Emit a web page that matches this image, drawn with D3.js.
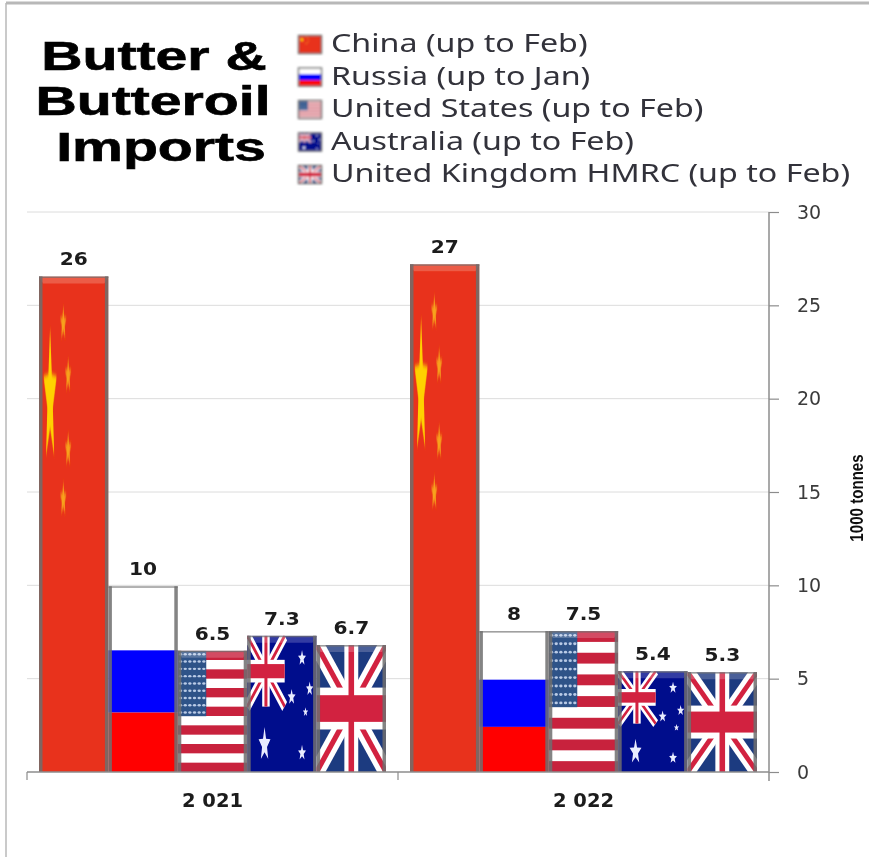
<!DOCTYPE html>
<html>
<head>
<meta charset="utf-8">
<script src="https://cdn.jsdelivr.net/npm/d3@7"></script>
<style>
  body { margin: 0; background: #fff; }
</style>
</head>
<body>
<div class="center"></div>
<script>
var years = ["2 021", "2 022"];
var countries = ["China", "Russia", "United States", "Australia", "United Kingdom"];
var legendLabels = ["China (up to Feb)", "Russia (up to Jan)", "United States (up to Feb)", "Australia (up to Feb)", "United Kingdom HMRC (up to Feb)"];
var values2021 = [26.55, 9.95, 6.5, 7.3, 6.8];
var values2022 = [27.2, 7.55, 7.55, 5.4, 5.35];
var labels2021 = ["26", "10", "6.5", "7.3", "6.7"];
var labels2022 = ["27", "8", "7.5", "5.4", "5.3"];
var titleLines = ["Butter &", "Butteroil", "Imports"];
var yTicks = [0, 5, 10, 15, 20, 25, 30];

var width = 869,
    height = 857;

var svg = d3.select(".center").append("svg")
    .attr("width", width)
    .attr("height", height)
    .style("display", "block");

var defs = svg.append("defs");
defs.append("filter").attr("id", "soft")
    .attr("x", "-5%").attr("y", "-5%").attr("width", "110%").attr("height", "110%")
    .append("feGaussianBlur").attr("stdDeviation", 0.65);
defs.append("filter").attr("id", "glow")
    .attr("x", "-50%").attr("y", "-50%").attr("width", "200%").attr("height", "200%")
    .append("feGaussianBlur").attr("stdDeviation", 0.5);
defs.append("filter").attr("id", "iconblur")
    .attr("x", "-10%").attr("y", "-10%").attr("width", "120%").attr("height", "120%")
    .append("feGaussianBlur").attr("stdDeviation", 0.9);

var root = svg.append("g").attr("filter", "url(#soft)");

// slide border
root.append("line").attr("x1", 6).attr("x2", width).attr("y1", 3).attr("y2", 3)
    .attr("stroke", "#b8b8b8").attr("stroke-width", 3);
root.append("line").attr("x1", 6).attr("x2", 6).attr("y1", 3).attr("y2", height)
    .attr("stroke", "#b8b8b8").attr("stroke-width", 1.5);

var x0 = d3.scaleBand().domain(years).range([27, 769]);
var x1 = d3.scaleBand().domain(countries).range([12, x0.bandwidth() - 12]);
var y = d3.scaleLinear().domain([0, 30]).range([772, 212]);

// gridlines
root.append("g").selectAll("line")
    .data(yTicks.slice(1))
    .enter().append("line")
    .attr("x1", 27).attr("x2", 769)
    .attr("y1", function(d) { return y(d); })
    .attr("y2", function(d) { return y(d); })
    .attr("stroke", "#dcdcdc").attr("stroke-width", 1);

// flag artwork, all drawn in a 100x100 box which gets stretched over the bar
function starPoints(cx, cy, rx, ry) {
  var pts = [];
  for (var i = 0; i < 10; i++) {
    var a = -Math.PI / 2 + i * Math.PI / 5;
    var k = i % 2 == 0 ? 1 : 0.42;
    pts.push((cx + rx * k * Math.cos(a)) + "," + (cy + ry * k * Math.sin(a)));
  }
  return pts.join(" ");
}

function rect(g, x, y, w, h, fill) {
  return g.append("rect").attr("x", x).attr("y", y).attr("width", w).attr("height", h).attr("fill", fill);
}

function flagChina(g) {
  rect(g, 0, 0, 100, 100, "#e8321a");
  g.append("polygon").attr("points", starPoints(16, 24.6, 10, 14.3)).attr("fill", "#ffd200").attr("filter", "url(#glow)");
  [[35, 9.5], [42, 20], [42, 35], [35, 45]].forEach(function(s) {
    g.append("polygon").attr("points", starPoints(s[0], s[1], 5, 3.6)).attr("fill", "#f7a21c").attr("filter", "url(#glow)");
  });
}

function flagRussia(g) {
  rect(g, 0, 0, 100, 34.5, "#ffffff");
  rect(g, 0, 34.5, 100, 33.5, "#0000ff");
  rect(g, 0, 68, 100, 32, "#ff0000");
}

function flagUS(g) {
  rect(g, 0, 0, 100, 100, "#ffffff");
  d3.range(0, 13, 2).forEach(function(i) {
    rect(g, 0, i * 100 / 13, 100, 100 / 13, "#c8203c");
  });
  rect(g, 0, 0, 41, 54, "#2f5288");
  d3.range(0, 9).forEach(function(r) {
    d3.range(0, 6).forEach(function(c) {
      g.append("ellipse").attr("cx", 4 + c * 6.7).attr("cy", 3 + r * 6)
          .attr("rx", 2.4).attr("ry", 1).attr("fill", "#b9cbe6");
    });
  });
}

function unionJack(g, bx, by, bw, bh, blue, hw) {
  var u = g.append("g").attr("transform", "translate(" + bx + "," + by + ") scale(" + bw / 100 + "," + bh / 100 + ")");
  rect(u, 0, 0, 100, 100, blue);
  [[0, 0, 100, 100], [100, 0, 0, 100]].forEach(function(l) {
    u.append("line").attr("x1", l[0]).attr("y1", l[1]).attr("x2", l[2]).attr("y2", l[3])
        .attr("stroke", "#ffffff").attr("stroke-width", 18);
    u.append("line").attr("x1", l[0]).attr("y1", l[1]).attr("x2", l[2]).attr("y2", l[3])
        .attr("stroke", "#d2213f").attr("stroke-width", 6);
  });
  rect(u, 40, 0, 20, 100, "#ffffff");
  rect(u, 0, 50 - hw / 2 - 6, 100, hw + 12, "#ffffff");
  rect(u, 46, 0, 8, 100, "#d2213f");
  rect(u, 0, 50 - hw / 2, 100, hw, "#d2213f");
}

function flagAustralia(g) {
  rect(g, 0, 0, 100, 100, "#00098c");
  unionJack(g, 0, 0, 54, 52, "#00098c", 20);
  [[79, 16.5, 6, 6], [90, 39, 5.5, 5.5], [64, 45, 6, 6], [84, 56, 4, 3.5], [79, 86, 6, 6], [25, 80, 9, 13]].forEach(function(s) {
    g.append("polygon").attr("points", starPoints(s[0], s[1], s[2], s[3])).attr("fill", "#e8ecff");
  });
}

function flagUK(g) {
  unionJack(g, 0, 0, 100, 100, "#1f3a80", 21);
}

var flags = {
  "China": flagChina,
  "Russia": flagRussia,
  "United States": flagUS,
  "Australia": flagAustralia,
  "United Kingdom": flagUK
};

function flagBox(parent, name, px, py, w, h) {
  var box = parent.append("svg")
      .attr("x", px).attr("y", py)
      .attr("width", w).attr("height", h)
      .attr("viewBox", "0 0 100 100")
      .attr("preserveAspectRatio", "none");
  flags[name](box);
  return box;
}

// bars
var groups = [
  {year: years[0], values: values2021, labels: labels2021},
  {year: years[1], values: values2022, labels: labels2022}
];

var group = root.selectAll(".group")
    .data(groups)
    .enter().append("g")
    .attr("class", "group")
    .attr("transform", function(d) { return "translate(" + x0(d.year) + ",0)"; });

group.each(function(d) {
  var g = d3.select(this);
  countries.forEach(function(c, i) {
    var bx = x1(c),
        bw = x1.bandwidth(),
        by = y(d.values[i]),
        bh = y(0) - by;
    flagBox(g, c, bx, by, bw, bh);
    // bevel: light band on top, dark sides
    g.append("polygon")
        .attr("points", [[bx, by], [bx + bw, by], [bx + bw - 4, by + 7], [bx + 4, by + 7]].join(" "))
        .attr("fill", "#ffffff").attr("opacity", 0.2);
    g.append("rect").attr("x", bx).attr("y", by).attr("width", 3.5).attr("height", bh)
        .attr("fill", "#6e6e6e").attr("opacity", 0.85);
    g.append("rect").attr("x", bx + bw - 3.5).attr("y", by).attr("width", 3.5).attr("height", bh)
        .attr("fill", "#6e6e6e").attr("opacity", 0.85);
    g.append("rect").attr("x", bx).attr("y", by).attr("width", bw).attr("height", 1.5)
        .attr("fill", "#6e6e6e").attr("opacity", 0.7);
    g.append("text")
        .attr("transform", "translate(" + (bx + bw / 2) + "," + (by - 11) + ") scale(1.12,1)")
        .attr("text-anchor", "middle")
        .attr("font-family", "DejaVu Sans")
        .attr("font-weight", "bold")
        .attr("font-size", "18px")
        .attr("fill", "#1a1a1a")
        .text(d.labels[i]);
  });
});

// axes
var yAxis = d3.axisRight(y).tickValues(yTicks).tickSize(10).tickPadding(18).tickSizeOuter(0);
var gy = root.append("g").attr("transform", "translate(769,0)").call(yAxis);
gy.select(".domain").attr("stroke", "#8c8c8c").attr("stroke-width", 1.5).attr("d", "M0,212V781");
gy.selectAll("line").attr("stroke", "#8c8c8c").attr("stroke-width", 1.2);
gy.selectAll("text")
    .attr("font-family", "DejaVu Sans")
    .attr("font-size", "19px")
    .attr("fill", "#3a3a3a");

var xAxis = d3.axisBottom(x0).tickSize(0).tickPadding(21);
var gx = root.append("g").attr("transform", "translate(0,772)").call(xAxis);
gx.select(".domain").attr("stroke", "#8c8c8c").attr("stroke-width", 1.5).attr("d", "M27,0H769");
gx.selectAll("text")
    .attr("font-family", "DejaVu Sans")
    .attr("font-weight", "bold")
    .attr("font-size", "19.5px")
    .attr("fill", "#1a1a1a");
gx.selectAll(".sep")
    .data([27, 27 + x0.step()])
    .enter().append("line")
    .attr("class", "sep")
    .attr("x1", function(d) { return d; }).attr("x2", function(d) { return d; })
    .attr("y1", 0).attr("y2", 8)
    .attr("stroke", "#8c8c8c").attr("stroke-width", 1.2);

// y axis title
root.append("text")
    .attr("transform", "translate(863,498) rotate(-90) scale(0.84,1)")
    .attr("text-anchor", "middle")
    .attr("font-family", "Liberation Sans")
    .attr("font-weight", "bold")
    .attr("font-size", "18px")
    .attr("fill", "#111")
    .text("1000 tonnes");

// title
var titleCentres = [154, 153, 161];
root.selectAll(".title")
    .data(titleLines)
    .enter().append("text")
    .attr("class", "title")
    .attr("transform", function(d, i) { return "translate(" + titleCentres[i] + "," + (69.5 + i * 45.5) + ") scale(1.43,1)"; })
    .attr("text-anchor", "middle")
    .attr("font-family", "Liberation Sans")
    .attr("font-weight", "bold")
    .attr("font-size", "40px")
    .attr("fill", "#000")
    .attr("stroke", "#000")
    .attr("stroke-width", 0.6)
    .text(function(d) { return d; });

// legend
var legend = root.selectAll(".legend")
    .data(countries)
    .enter().append("g")
    .attr("class", "legend")
    .attr("transform", function(d, i) { return "translate(298," + (35 + i * 32.5) + ")"; });

legend.each(function(d) {
  var icon = d3.select(this).append("g").attr("filter", "url(#iconblur)");
  flagBox(icon, d, 0, 0, 24, 19);
  icon.append("rect")
      .attr("x", 0.5).attr("y", 0.5).attr("width", 23).attr("height", 18)
      .attr("fill", "none").attr("stroke", "#777").attr("stroke-width", 1.5);
});

legend.append("text")
    .attr("transform", "translate(33,17) scale(1.24,1)")
    .attr("font-family", "Noto Sans")
    .attr("font-size", "26px")
    .attr("fill", "#33333a")
    .text(function(d, i) { return legendLabels[i]; });
</script>
</body>
</html>
